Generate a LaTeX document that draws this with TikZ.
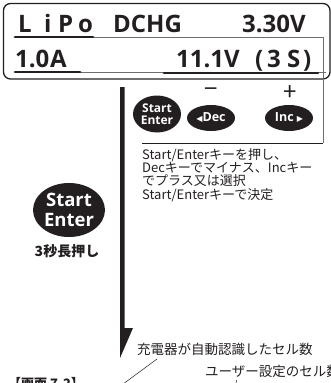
\documentclass[tikz,border=0pt]{standalone}
\usepackage{fontspec}
\setmainfont{Noto Sans CJK JP}
\newfontfamily\latfont{Open Sans}
\newfontfamily\symfont{DejaVu Sans}
\usetikzlibrary{shapes.geometric}
\definecolor{ink}{HTML}{231F20}
\definecolor{leader}{HTML}{6D6E71}
\tikzset{
  disp/.style={anchor=base west, inner sep=0pt, text=ink, font=\latfont\fontsize{24}{24}\selectfont\bfseries},
  btn/.style={ellipse, fill=ink, inner sep=0pt, text=white, align=center},
  uline/.style={ink, line width=2.8pt, line cap=round},
  thinline/.style={leader, line width=0.5pt},
  note/.style={inner sep=0pt, text=ink, align=left},
}
\begin{document}
\begin{tikzpicture}[x=1pt,y=-1pt]
\useasboundingbox (0,0) rectangle (331,383);
\begin{scope}
\clip (0,0) rectangle (331,383);
% display panel
\draw[ink, line width=1.3pt, rounded corners=7pt] (3.5,3.5) rectangle (330,79);
% line 1
\node[disp] (tL) at (18,32) {L};
\node[disp] (ti) at (44,32) {i};
\node[disp] (tP) at (58,32) {P};
\node[disp] (to) at (78,32) {o};
\node[disp] (tD) at (113,32) {DCHG};
\node[disp] (tV) at (242,32) {3.30V};
% line 2
\node[disp] (t10) at (15,67) {1.0};
\node[disp] (tA) at (50,67) {A};
\node[disp] (t111) at (176,67) {11.1V};
\node[disp] (tpo) at (255,67) {(};
\node[disp] (t3) at (267,67) {3};
\node[disp] (tS) at (287,67) {S};
\node[disp] (tpc) at (303,67) {)};
% underlines and thin lines
\coordinate (u1a) at (15,37); \coordinate (u1b) at (93,37);
\coordinate (u2a) at (15,72); \coordinate (u2b) at (80,72);
\coordinate (u3a) at (164,73); \coordinate (u3b) at (318,73);
\coordinate (k1) at (323,37); \coordinate (k2) at (323,143);
\coordinate (k3) at (142,143); \coordinate (u4) at (326,72);
\draw[thinline] (u1b) -- (k1) -- (k2);
\draw[thinline] (u2b) -- (u4);
\draw[uline] (u1a) -- (u1b);
\draw[uline] (u2a) -- (u2b);
\draw[uline] (u3a) -- (u3b);
\draw[ink, line width=0.7pt] (k3) -- (k2);
% keys
\node[btn, minimum width=48pt, minimum height=37pt, font=\latfont\fontsize{12}{12.5}\selectfont\bfseries] (s1) at (157,114) {Start\\Enter};
\node[btn, minimum width=48pt, minimum height=26pt, font=\latfont\fontsize{12.5}{13}\selectfont\bfseries] (dec) at (211,118) {{\symfont\fontsize{8}{8}\selectfont ◀}Dec};
\node[btn, minimum width=48pt, minimum height=26pt, font=\latfont\fontsize{12.5}{13}\selectfont\bfseries] (inc) at (289,118) {Inc {\symfont\fontsize{8}{8}\selectfont ▶}};
\node[text=ink, inner sep=0pt, font=\fontsize{24}{24}\selectfont] (minus) at (211,93) {−};
\node[text=ink, inner sep=0pt, font=\fontsize{24}{24}\selectfont] (plus) at (290,93) {+};
% description
\node[note, anchor=north west, font=\fontsize{13}{13.3}\selectfont] (desc) at (142,148)
  {Start/Enterキーを押し、\\Decキーでマイナス、Incキー\\でプラス又は選択\\Start/Enterキーで決定};
% big key
\node[btn, minimum width=72pt, minimum height=54pt, font=\latfont\fontsize{18.5}{20}\selectfont\bfseries] (s2) at (69,210) {Start\\Enter};
\node[text=ink, inner sep=0pt, font=\fontsize{14}{14}\selectfont\bfseries] (hold) at (67,251) {3秒長押し};
% arrow
\fill[ink] (120,87) -- (124.5,87) -- (124.5,328) -- (133,328) -- (120,358) -- cycle;
% bottom labels
\node[note, anchor=west, font=\fontsize{13.5}{13.5}\selectfont] (auto) at (137,349) {充電器が自動認識したセル数};
\node[note, anchor=west, font=\fontsize{13.5}{13.5}\selectfont] (user) at (205,371) {ユーザー設定のセル数};
\node[note, anchor=north west, font=\fontsize{13}{13}\selectfont\bfseries] (fig) at (8,377) {【画面 7-2】};
\coordinate (l1a) at (157,359); \coordinate (l1b) at (119,387);
\draw[ink, line width=0.5pt] (l1a) -- (l1b);
\coordinate (l2a) at (236.5,380); \coordinate (l2b) at (235,392);
\draw[ink, line width=0.5pt] (l2a) -- (l2b);
\end{scope}
\end{tikzpicture}
\end{document}
